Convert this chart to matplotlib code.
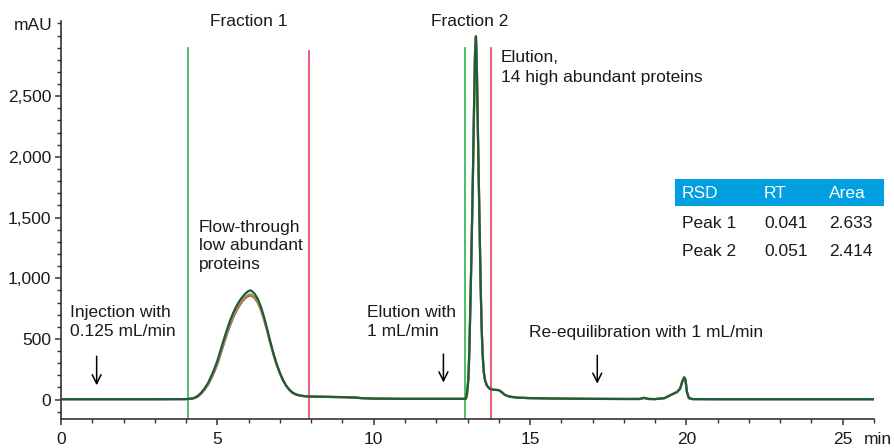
import matplotlib
matplotlib.use("Agg")
import matplotlib.pyplot as plt
from matplotlib.ticker import MultipleLocator, FuncFormatter
from matplotlib.patches import Rectangle

plt.rcParams['font.family'] = ['Liberation Sans', 'DejaVu Sans']

# chromatogram, three overlaid runs
time_min = [0.0, 1.0, 2.0, 3.0, 4.0, 4.1, 4.2, 4.3, 4.4, 4.5, 4.6, 4.7, 4.8, 4.9,
            5.0, 5.1, 5.2, 5.3, 5.4, 5.5, 5.6, 5.7, 5.8, 5.9, 6.0, 6.05, 6.1, 6.2,
            6.3, 6.4, 6.5, 6.6, 6.7, 6.8, 6.9, 7.0, 7.1, 7.2, 7.3, 7.4, 7.5, 7.6,
            7.7, 7.8, 7.9, 8.2, 8.6, 9.0, 9.4, 9.6, 10.0, 11.0, 12.0, 12.9,
            12.95, 12.98, 13.0, 13.03, 13.06, 13.09, 13.12, 13.15, 13.18, 13.21,
            13.24, 13.27, 13.3, 13.33, 13.36, 13.39, 13.42, 13.45, 13.48, 13.52,
            13.56, 13.62, 13.7, 13.8, 13.9, 14.0, 14.1, 14.2, 14.35, 14.6, 15.0,
            16.0, 17.0, 18.0, 18.5, 18.64, 18.8, 19.0, 19.3, 19.5, 19.7, 19.8,
            19.87, 19.93, 19.97, 20.02, 20.08, 20.2, 21.0, 22.0, 23.0, 24.0,
            25.0, 26.0]

run1 = [3, 3, 3, 3, 4, 6, 9, 18, 35, 62, 95, 135, 190, 250,
        320, 405, 490, 570, 645, 710, 765, 810, 845, 875, 895, 900, 895, 870,
        825, 760, 675, 575, 470, 375, 290, 220, 160, 115, 82, 58, 44, 36,
        31, 28, 26, 24, 22, 20, 17, 12, 8, 6, 6, 6,
        8, 40, 90, 180, 420, 760, 1120, 1530, 1950, 2420,
        2850, 2995, 2720, 2250, 1820, 1380, 950, 620, 390, 230,
        160, 115, 92, 82, 80, 78, 60, 38, 24, 16, 12,
        8, 6, 5, 5, 14, 5, 4, 12, 38, 62, 90,
        150, 184, 165, 60, 12, 4, 3, 3, 3, 3,
        3, 3]

run2 = [3, 3, 3, 3, 4, 6, 9, 17, 33, 58, 90, 128, 180, 238,
        305, 385, 468, 548, 620, 685, 740, 785, 820, 848, 865, 868, 864, 842,
        800, 738, 658, 562, 460, 368, 285, 216, 157, 113, 80, 57, 43, 36,
        31, 28, 26, 24, 22, 20, 17, 12, 8, 6, 6, 6,
        8, 40, 90, 180, 420, 760, 1120, 1530, 1950, 2420,
        2850, 2990, 2720, 2250, 1820, 1380, 950, 620, 390, 230,
        160, 115, 92, 82, 80, 78, 60, 38, 24, 16, 12,
        8, 6, 5, 5, 14, 5, 4, 12, 38, 62, 90,
        150, 182, 165, 60, 12, 4, 3, 3, 3, 3,
        3, 3]

run3 = [3, 3, 3, 3, 4, 6, 8, 15, 30, 54, 85, 122, 172, 228,
        293, 372, 455, 535, 607, 672, 728, 773, 810, 838, 855, 858, 855, 835,
        795, 735, 656, 562, 462, 370, 288, 219, 160, 115, 82, 58, 44, 36,
        31, 28, 26, 24, 22, 20, 17, 12, 8, 6, 6, 6,
        8, 38, 88, 176, 410, 750, 1110, 1520, 1940, 2410,
        2840, 2985, 2710, 2240, 1810, 1370, 940, 615, 388, 228,
        160, 115, 92, 82, 80, 78, 60, 38, 24, 16, 12,
        8, 6, 5, 5, 14, 5, 4, 12, 38, 62, 90,
        150, 180, 163, 60, 12, 4, 3, 3, 3, 3,
        3, 3]

# fraction collection windows
frac_start = [4.07, 12.93]
frac_end = [7.92, 13.75]
frac_start_top = [2900, 2900]
frac_end_top = [2870, 2900]
frac_labels = ["Fraction 1", "Fraction 2"]
frac_label_x = [6.01, 13.08]

# RSD table
table_header = ["RSD", "RT", "Area"]
table_rows = [["Peak 1", "0.041", "2.633"],
              ["Peak 2", "0.051", "2.414"]]

W, H = 894, 448
fig = plt.figure(figsize=(W / 100, H / 100), dpi=100)
ax = fig.add_axes([61 / W, 1 - 419 / H, (874 - 61) / W, (419 - 21) / H])

fs = 12.5
ink = "#1a1a1a"

ax.plot(time_min, run3, color="#c2307a", lw=1.6, zorder=3)
ax.plot(time_min, run2, color="#a09a3a", lw=1.6, zorder=4)
ax.plot(time_min, run1, color="#1b5e3b", lw=1.6, zorder=5)

ymin = -160
for i in range(2):
    ax.plot([frac_start[i], frac_start[i]], [ymin, frac_start_top[i]],
            color="#2cb54a", lw=1.2, zorder=2)
    ax.plot([frac_end[i], frac_end[i]], [ymin, frac_end_top[i]],
            color="#e8405e", lw=1.2, zorder=2)
    ax.text(frac_label_x[i], 3115, frac_labels[i], ha="center", va="center",
            fontsize=fs, color=ink)

ax.set_xlim(0, 26)
ax.set_ylim(ymin, 3120)
ax.spines["top"].set_visible(False)
ax.spines["right"].set_visible(False)
for s in ("left", "bottom"):
    ax.spines[s].set_linewidth(1.2)
    ax.spines[s].set_color("#333333")

ax.xaxis.set_major_locator(MultipleLocator(5))
ax.xaxis.set_minor_locator(MultipleLocator(1))
ax.yaxis.set_major_locator(MultipleLocator(500))
ax.yaxis.set_minor_locator(MultipleLocator(100))
ax.set_yticks([0, 500, 1000, 1500, 2000, 2500])
ax.yaxis.set_major_formatter(FuncFormatter(lambda v, p: f"{v:,.0f}"))
ax.tick_params(axis="both", which="major", direction="out", length=4,
               width=1.1, color="#333333", labelsize=fs, labelcolor=ink)
ax.tick_params(axis="both", which="minor", direction="out", length=3,
               width=1.0, color="#333333")
ax.tick_params(axis="x", which="major", pad=5)
ax.tick_params(axis="y", which="major", pad=3)

# annotations
ax.text(0.29, 640, "Injection with\n0.125 mL/min", ha="left", va="center",
        fontsize=fs, color=ink, linespacing=1.3)
ax.text(4.41, 1268, "Flow-through\nlow abundant\nproteins", ha="left",
        va="center", fontsize=fs, color=ink, linespacing=1.3)
ax.text(9.79, 640, "Elution with\n1 mL/min", ha="left", va="center",
        fontsize=fs, color=ink, linespacing=1.3)
ax.text(14.07, 2737, "Elution,\n14 high abundant proteins", ha="left",
        va="center", fontsize=fs, color=ink, linespacing=1.35)
ax.text(14.98, 550, "Re-equilibration with 1 mL/min", ha="left",
        va="center", fontsize=fs, color=ink)

arrows = [(1.14, 380, 95), (12.23, 398, 118), (17.15, 387, 108)]
for ax_x, y0, y1 in arrows:
    ax.annotate("", xy=(ax_x, y1), xytext=(ax_x, y0),
                arrowprops=dict(arrowstyle="->", color="black", lw=1.1,
                                mutation_scale=16))

# axis unit labels
fig.text(53 / W, 1 - 25 / H, "mAU", ha="right", va="center", fontsize=fs,
         color=ink)
fig.text(864 / W, 1 - 439 / H, "min", ha="left", va="center", fontsize=fs,
         color=ink)

# table
fig.patches.append(Rectangle((675 / W, 1 - 206.5 / H), (884 - 675) / W,
                             27.5 / H, transform=fig.transFigure,
                             facecolor="#009fdf", edgecolor="none"))
col_x = [682, 764, 829]
for j, h in enumerate(table_header):
    fig.text(col_x[j] / W, 1 - 193 / H, h, ha="left", va="center",
             fontsize=fs, color="white")
row_y = [223, 251]
for i, row in enumerate(table_rows):
    for j, cell in enumerate(row):
        fig.text(col_x[j] / W, 1 - row_y[i] / H, cell, ha="left",
                 va="center", fontsize=fs, color=ink)

fig.savefig("out.png", dpi=100)
